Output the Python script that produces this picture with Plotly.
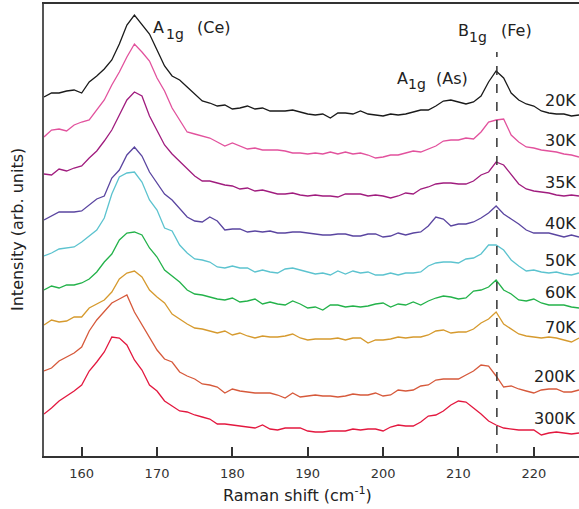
import plotly.graph_objects as go

# Raman shift axis (cm^-1), one point per wavenumber
shift = list(range(155, 227))

temps = ['20K', '30K', '35K', '40K', '50K', '60K', '70K', '200K', '300K']

# spectra (arb. units)
i_20K = [21, 25, 25, 27, 28, 25, 36, 42, 49, 58, 74, 93, 103, 94, 84, 68, 52, 42, 38, 31, 24, 17, 15, 12, 13,
         9, 10, 12, 9, 10, 7, 7, 7, 8, 6, 4, 3, 4, 0, 5, 5, 4, 7, 4, 3, 2, 4, 3,
         4, 6, 8, 8, 12, 17, 18, 16, 14, 16, 22, 36, 47, 40, 25, 18, 14, 12, 7, 5, 4, 4, 2, 3]
i_30K = [21, 28, 29, 27, 33, 36, 38, 48, 58, 73, 86, 101, 114, 106, 97, 80, 67, 50, 38, 26, 24, 22, 20, 16, 12,
         15, 12, 9, 10, 8, 8, 8, 7, 5, 5, 4, 5, 4, 6, 4, 6, 4, 5, 3, 0, 1, 3, 3,
         5, 7, 6, 9, 12, 17, 18, 18, 20, 19, 26, 36, 38, 39, 23, 16, 11, 10, 8, 7, 6, 4, 3, 1]
i_35K = [24, 23, 29, 27, 30, 32, 40, 47, 57, 68, 83, 98, 106, 102, 82, 67, 53, 44, 37, 30, 22, 17, 17, 15, 13,
         12, 9, 10, 7, 8, 6, 4, 4, 5, 3, 2, 3, 2, 2, 1, 4, 4, 4, 2, 3, 2, 0, 2,
         5, 4, 9, 11, 14, 15, 15, 14, 14, 17, 23, 26, 36, 33, 23, 14, 9, 7, 6, 5, 3, 2, 3, 2]
i_40K = [17, 21, 25, 25, 25, 26, 32, 38, 41, 59, 67, 82, 90, 81, 65, 54, 43, 37, 28, 20, 16, 15, 20, 16, 7,
         8, 8, 5, 6, 5, 6, 4, 4, 5, 5, 4, 3, 2, 2, 3, 3, 1, 1, 3, 3, 0, 1, 4,
         2, 4, 5, 11, 20, 18, 11, 13, 13, 15, 19, 24, 31, 23, 18, 13, 7, 4, 4, 4, 2, 0, 2, 0]
i_50K = [21, 24, 28, 29, 30, 35, 41, 47, 59, 83, 100, 104, 105, 95, 77, 67, 49, 46, 32, 24, 18, 17, 15, 10, 9,
         11, 9, 9, 5, 7, 5, 4, 8, 9, 7, 5, 3, 4, 2, 6, 3, 6, 4, 5, 2, 2, 4, 2,
         4, 4, 5, 11, 14, 15, 15, 14, 18, 19, 23, 32, 32, 27, 17, 11, 6, 7, 5, 4, 5, 3, 2, 4]
i_60K = [20, 24, 22, 25, 25, 27, 31, 38, 48, 56, 70, 77, 78, 75, 62, 53, 40, 34, 28, 20, 16, 15, 13, 11, 10,
         12, 8, 9, 11, 6, 8, 6, 5, 9, 6, 2, 3, 0, 5, 5, 3, 4, 3, 4, 6, 7, 3, 6,
         5, 8, 5, 9, 12, 14, 13, 11, 12, 19, 20, 23, 30, 20, 16, 10, 9, 11, 7, 5, 5, 5, 3, 2]
i_70K = [18, 23, 21, 22, 26, 26, 35, 39, 43, 51, 64, 70, 72, 66, 53, 46, 40, 29, 24, 19, 15, 14, 12, 10, 12,
         8, 10, 7, 5, 7, 6, 6, 7, 9, 5, 3, 4, 4, 4, 5, 3, 5, 5, 0, 3, 3, 4, 6,
         5, 6, 6, 8, 12, 13, 10, 11, 11, 14, 20, 24, 31, 19, 14, 9, 7, 6, 5, 6, 5, 3, 1, 5]
i_200K = [27, 30, 37, 41, 45, 51, 67, 78, 86, 95, 99, 103, 86, 73, 60, 48, 39, 36, 26, 22, 19, 14, 13, 11, 5,
          9, 7, 6, 5, 5, 5, 3, 0, 5, 1, 2, 3, 2, 2, 1, 2, 4, 3, 3, 5, 2, 3, 8,
          7, 8, 12, 13, 18, 19, 19, 19, 23, 27, 33, 32, 22, 11, 12, 9, 7, 5, 8, 9, 9, 6, 6, 8]
i_300K = [21, 27, 34, 39, 44, 50, 64, 73, 83, 98, 97, 90, 75, 65, 50, 44, 34, 29, 24, 23, 20, 18, 16, 11, 11,
          10, 9, 8, 7, 10, 6, 5, 7, 7, 7, 4, 3, 3, 4, 4, 4, 6, 5, 6, 6, 4, 8, 10,
          9, 9, 13, 19, 20, 24, 30, 34, 33, 27, 21, 14, 10, 7, 6, 5, 5, 5, 0, 2, 3, 2, 1, 2]

spectra = [i_20K, i_30K, i_35K, i_40K, i_50K, i_60K, i_70K, i_200K, i_300K]

# vertical stacking offsets
offsets = [338, 298, 258, 219, 179, 146, 113, 58, 21]
label_y = [356, 316, 274, 233, 196, 164, 129, 80, 38]
colors = ['#1a1a1a', '#e2529d', '#a01c7e', '#5a45a0', '#5cc3cf', '#23b24a', '#d69a2e', '#d6593b', '#e3183f']

FONT = 'DejaVu Sans'
TXT = '#222222'

fig = go.Figure()

for t, s, off, c in zip(temps, spectra, offsets, colors):
    fig.add_trace(go.Scatter(x=shift, y=[v + off for v in s], mode='lines', name=t,
                             line=dict(color=c, width=1.3), showlegend=False))

# B1g (Fe) position
fig.add_shape(type='line', x0=215.1, x1=215.1, y0=3, y1=404, xref='x', yref='y',
              line=dict(color='#333333', width=1.5, dash='dash'))

for t, ly in zip(temps, label_y):
    fig.add_annotation(x=1, y=ly, xref='paper', yref='y', text=t, showarrow=False,
                       xanchor='right', yanchor='middle', xshift=-1,
                       font=dict(family=FONT, size=16, color=TXT))


def mode_label(letter, sub, rest, x_letter, x_sub, x_rest, y_main, y_sub):
    fig.add_annotation(x=x_letter, y=y_main, text=letter, showarrow=False, xanchor='left',
                       yanchor='middle', font=dict(family=FONT, size=16, color=TXT))
    fig.add_annotation(x=x_sub, y=y_sub, text=sub, showarrow=False, xanchor='left',
                       yanchor='middle', font=dict(family=FONT, size=14, color=TXT))
    fig.add_annotation(x=x_rest, y=y_main, text=rest, showarrow=False, xanchor='left',
                       yanchor='middle', font=dict(family=FONT, size=16, color=TXT))


mode_label('A', '1g', '(Ce)', 169.2, 170.9, 175.0, 429, 422)
mode_label('B', '1g', '(Fe)', 209.7, 211.1, 215.4, 426, 419)
mode_label('A', '1g', '(As)', 201.6, 203.1, 206.7, 378, 372)

fig.add_annotation(x=0.474, y=0, xref='paper', yref='paper', yshift=-38,
                   text='Raman shift (cm<sup>-1</sup>)', showarrow=False,
                   xanchor='center', yanchor='middle',
                   font=dict(family=FONT, size=16, color=TXT))
fig.add_annotation(x=0, y=0.5, xref='paper', yref='paper', xshift=-27,
                   text='Intensity (arb. units)', showarrow=False, textangle=-90,
                   xanchor='center', yanchor='middle',
                   font=dict(family=FONT, size=16, color=TXT))

fig.update_xaxes(range=[155, 226], tickvals=[160, 170, 180, 190, 200, 210, 220],
                 ticks='inside', ticklen=9, tickwidth=2, tickcolor='#333333',
                 ticklabelstandoff=4,
                 showline=True, linewidth=2, linecolor='#333333', mirror=True,
                 showgrid=False, zeroline=False,
                 tickfont=dict(family=FONT, size=13, color='#333333'))
fig.update_yaxes(range=[0, 452], showticklabels=False, ticks='',
                 showline=True, linewidth=2, linecolor='#555555',
                 showgrid=False, zeroline=False)

fig.update_layout(width=579, height=509, plot_bgcolor='white', paper_bgcolor='white',
                  margin=dict(l=44, r=0, t=4, b=53), font=dict(family=FONT))

fig.write_html('out.html', config={'displayModeBar': False},
               post_script="document.body.style.margin='0px';")
